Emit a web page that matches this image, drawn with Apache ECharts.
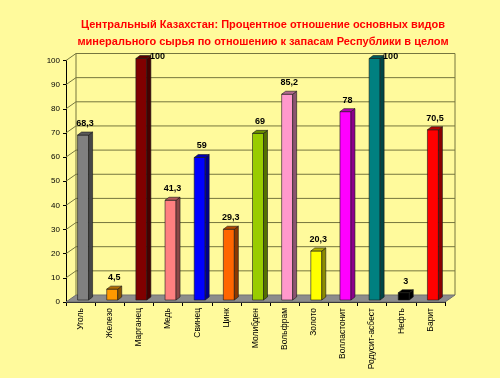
<!DOCTYPE html>
<html>
<head>
<meta charset="utf-8">
<script src="https://cdn.jsdelivr.net/npm/echarts@6/dist/echarts.min.js"></script>
<style>
  html, body { margin: 0; padding: 0; background: #fffa9c; }
  #chart { width: 500px; height: 378px; }
</style>
</head>
<body>
<div id="chart"></div>
<script>
// данные с картинки
const categories = ['Уголь', 'Железо', 'Марганец', 'Медь', 'Свинец', 'Цинк', 'Молибден',
  'Вольфрам', 'Золото', 'Волластонит', 'Родусит-асбест', 'Нефть', 'Барит']
const values = [68.3, 4.5, 100, 41.3, 59, 29.3, 69, 85.2, 20.3, 78, 100, 3, 70.5]
const barColors = ['#808080', '#ff9900', '#800000', '#ff8080', '#0000ff', '#ff6600', '#99cc00',
  '#ff99cc', '#ffff00', '#ff00ff', '#008080', '#000000', '#ff0000']
const yTicks = [0, 10, 20, 30, 40, 50, 60, 70, 80, 90, 100]

const FONT = '"Liberation Sans", Arial, sans-serif'
// глубина "3D" стенок
const DX = 10, DY = -7
// глубина столбиков
const BDX = 4, BDY = -3

function shade(hex, k) {
  const n = parseInt(hex.slice(1), 16)
  const r = Math.round(((n >> 16) & 255) * k)
  const g = Math.round(((n >> 8) & 255) * k)
  const b = Math.round((n & 255) * k)
  return `rgb(${r},${g},${b})`
}

/** стенки, пол и сетка */
function renderFrame(params, api) {
  const cs = params.coordSys
  const v = api.value(0)
  const y = api.coord([0, v])[1]
  const x0 = cs.x, x1 = cs.x + cs.width
  const lineStyle = { stroke: '#76763e', lineWidth: 1 }
  const children = []
  if (v === 0) {
    children.push({
      type: 'polygon',
      shape: { points: [[x0, y], [x1, y], [x1 + DX, y + DY], [x0 + DX, y + DY]] },
      style: { fill: '#8c8c8c', stroke: '#707070', lineWidth: 1 },
    })
    // левая и правая грани задней стенки
    children.push({ type: 'line', shape: { x1: x0 + DX, y1: y + DY, x2: x0 + DX, y2: cs.y + DY }, style: lineStyle })
    children.push({ type: 'line', shape: { x1: x1 + DX, y1: y + DY, x2: x1 + DX, y2: cs.y + DY }, style: lineStyle })
  } else {
    children.push({ type: 'line', shape: { x1: x0, y1: y, x2: x0 + DX, y2: y + DY }, style: lineStyle })
    children.push({ type: 'line', shape: { x1: x0 + DX, y1: y + DY, x2: x1 + DX, y2: y + DY }, style: lineStyle })
  }
  return { type: 'group', children }
}

/** объемный столбик */
function renderBar(params, api) {
  const idx = api.value(0)
  const val = api.value(1)
  const base = api.coord([idx, 0])
  const top = api.coord([idx, val])
  const w = 11
  const cx = base[0] + 2.5
  const left = cx - w / 2, right = cx + w / 2
  const yb = base[1] - 2, yt = top[1] - 2
  const color = barColors[idx]
  const label = String(val).replace('.', ',')
  const big = val >= 100
  return {
    type: 'group',
    children: [
      { type: 'rect', shape: { x: left, y: yt, width: w, height: yb - yt },
        style: { fill: color, stroke: '#1a1a1a', lineWidth: 0.6 } },
      { type: 'polygon',
        shape: { points: [[right, yb], [right + BDX, yb + BDY], [right + BDX, yt + BDY], [right, yt]] },
        style: { fill: shade(color, 0.55), stroke: '#1a1a1a', lineWidth: 0.6 } },
      { type: 'polygon',
        shape: { points: [[left, yt], [right, yt], [right + BDX, yt + BDY], [left + BDX, yt + BDY]] },
        style: { fill: shade(color, 0.7), stroke: '#1a1a1a', lineWidth: 0.6 } },
      { type: 'text',
        x: big ? right + BDX - 1 : cx + BDX / 2,
        y: big ? yt + BDY + 1 : yt + BDY - 4,
        style: { text: label, fill: '#000', font: 'bold 9px ' + FONT,
          align: big ? 'left' : 'center', verticalAlign: big ? 'middle' : 'bottom' } },
    ],
  }
}

const chart = echarts.init(document.getElementById('chart'))
chart.setOption({
  backgroundColor: '#fffa9c',
  animation: false,
  title: {
    text: 'Центральный Казахстан: Процентное отношение основных видов\nминерального сырья по отношению к запасам Республики в целом',
    left: 258,
    textAlign: 'center',
    top: 11,
    textStyle: { color: '#f00', fontWeight: 'bold', fontSize: 11, lineHeight: 17, fontFamily: FONT },
  },
  grid: { left: 66, right: 55, top: 60.5, bottom: 76, outerBoundsMode: 'none' },
  xAxis: {
    type: 'category',
    data: categories,
    axisLine: { lineStyle: { color: '#000' } },
    axisTick: { show: true, length: 4, lineStyle: { color: '#000' } },
    axisLabel: { rotate: 90, margin: 6, fontSize: 8.5, color: '#000', fontFamily: FONT },
  },
  yAxis: {
    type: 'value',
    min: 0, max: 100, interval: 10,
    axisLine: { show: true, lineStyle: { color: '#000' } },
    axisTick: { show: true, length: 3, lineStyle: { color: '#000' } },
    splitLine: { show: false },
    axisLabel: { margin: 6, fontSize: 8, color: '#000', fontFamily: FONT },
  },
  series: [
    {
      type: 'custom',
      silent: true,
      z: 1,
      renderItem: renderFrame,
      data: yTicks.map((v) => [v]),
      encode: { y: 0 },
    },
    {
      type: 'custom',
      z: 2,
      renderItem: renderBar,
      data: values.map((v, i) => [i, v]),
      encode: { x: 0, y: 1 },
    },
  ],
})
</script>
</body>
</html>
